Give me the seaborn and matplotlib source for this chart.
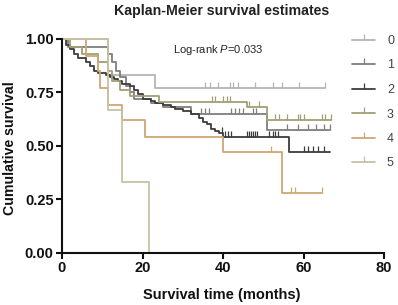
import numpy as np
import pandas as pd
import matplotlib
matplotlib.use("Agg")
import matplotlib.pyplot as plt
from matplotlib.lines import Line2D
import seaborn as sns

# ---------------- data ----------------
groups = ["0", "1", "2", "3", "4", "5"]
colors = ["#b4b4b4", "#7e7e7e", "#3c3c3c", "#a39e74", "#cfa673", "#c9c1a3"]

t0 = [0, 11.5, 23, 65.3]
s0 = [1.0, 0.83, 0.77, 0.77]
c0 = [35.5, 36.8, 38.8, 41.7, 42.5, 43.7, 48, 52.4, 54.7, 58.9, 65.3]

t1 = [0, 1.5, 11.5, 12.5, 13.5, 14.5, 16, 17, 18, 22, 25, 32, 51, 66.5]
s1 = [1.0, 0.96, 0.93, 0.89, 0.85, 0.82, 0.78, 0.75, 0.72, 0.70, 0.68, 0.65, 0.575, 0.575]
c1 = [34.5, 35.5, 36.5, 42, 43, 44, 45, 47.5, 48.3, 56, 58.6, 61, 63, 65, 66.5]

t2 = [0, 1, 2, 3, 4, 6, 7, 8, 9, 11, 12, 13, 14, 15, 17, 18, 19, 20, 22, 23, 25,
      27, 28, 30, 32, 34, 35, 36, 37, 38, 39, 40, 56.5, 66.5]
s2 = [1.0, 0.97, 0.95, 0.93, 0.91, 0.89, 0.87, 0.85, 0.84, 0.83, 0.82, 0.81, 0.80,
      0.79, 0.78, 0.76, 0.74, 0.72, 0.71, 0.70, 0.69, 0.68, 0.67, 0.66, 0.65, 0.63,
      0.61, 0.60, 0.58, 0.57, 0.56, 0.54, 0.47, 0.47]
c2 = [39.8, 40.5, 41.2, 42, 46, 46.5, 47, 47.5, 48, 48.5, 51.5, 52.3, 53, 53.7,
      60, 61, 62.3, 63.5, 65.2]

t3 = [0, 2, 5, 9, 11.5, 12.5, 14.5, 17, 24, 46, 51, 66.8]
s3 = [1.0, 0.96, 0.93, 0.89, 0.85, 0.80, 0.76, 0.73, 0.705, 0.68, 0.62, 0.62]
c3 = [37.3, 38, 40, 41, 41.7, 46.5, 49, 53, 54, 56, 58.6, 59.2, 60, 64.6, 65.3, 66.8]

t4 = [0, 6, 9, 9.5, 11.5, 15, 20.5, 40, 54.7, 64.6]
s4 = [1.0, 0.92, 0.85, 0.77, 0.69, 0.62, 0.54, 0.47, 0.28, 0.28]
c4 = [52, 57, 58, 64.6]

t5 = [0, 11.5, 15, 21.5]
s5 = [1.0, 0.667, 0.333, 0.0]
c5 = []

xticks = [0, 20, 40, 60, 80]
yticks = [0.0, 0.25, 0.50, 0.75, 1.00]

times = [t0, t1, t2, t3, t4, t5]
survs = [s0, s1, s2, s3, s4, s5]
cens = [c0, c1, c2, c3, c4, c5]

# ---------------- build tables ----------------
curve_rows = []
cens_rows = []
for g, tt, ss, cc in zip(groups, times, survs, cens):
    for a, b in zip(tt, ss):
        curve_rows.append({"time": a, "surv": b, "group": g})
    tt_arr = np.asarray(tt)
    for c in cc:
        idx = np.searchsorted(tt_arr, c, side="right") - 1
        cens_rows.append({"time": c, "surv": ss[idx], "group": g})
curves = pd.DataFrame(curve_rows)
censored = pd.DataFrame(cens_rows)
palette = dict(zip(groups, colors))

# ---------------- style ----------------
sns.set_theme(style="white")
plt.rcParams["font.family"] = ["Liberation Sans", "DejaVu Sans"]
plt.rcParams["mathtext.fontset"] = "custom"
plt.rcParams["mathtext.rm"] = "Liberation Sans"
plt.rcParams["mathtext.it"] = "Liberation Sans:italic"

fig = plt.figure(figsize=(3.98, 3.05), dpi=100)
ax = fig.add_axes([62 / 398, 1 - 253 / 305, 322 / 398, 214.5 / 305])

sns.lineplot(data=curves, x="time", y="surv", hue="group", palette=palette,
             drawstyle="steps-post", linewidth=1.3, errorbar=None,
             estimator=None, sort=True, legend=False, ax=ax, clip_on=False)
sns.scatterplot(data=censored, x="time", y="surv", hue="group", palette=palette,
                marker=2, s=18, linewidth=0.9, legend=False, ax=ax, clip_on=False)

ax.set_xlim(0, 80)
ax.set_ylim(0, 1.0)
ax.set_xticks(xticks)
ax.set_yticks(yticks)
ax.set_yticklabels([f"{v:.2f}" for v in yticks])
for s in ["top", "right"]:
    ax.spines[s].set_visible(False)
for s in ["left", "bottom"]:
    ax.spines[s].set_linewidth(1.5)
    ax.spines[s].set_color("#111111")
ax.tick_params(axis="both", which="major", direction="out", length=4.5, width=1.5,
               color="#111111", labelsize=10.5, pad=1.5, left=True, bottom=True)
for lab in ax.get_xticklabels() + ax.get_yticklabels():
    lab.set_fontweight("bold")
    lab.set_color("#111111")

ax.set_xlabel("Survival time (months)", fontsize=10.5, fontweight="bold", color="#111111")
ax.set_ylabel("Cumulative survival", fontsize=10.2, fontweight="bold", color="#111111")
ax.xaxis.set_label_coords(0.497, -0.165)
ax.yaxis.set_label_coords(-0.14, 0.49)

fig.text(222 / 398, 1 - 11 / 305, "Kaplan-Meier survival estimates", ha="center",
         va="center", fontsize=10.2, fontweight="bold", color="#222222")
ax.text((173 - 62) / 322, (253 - 50) / 214.5,
        r"Log-rank $P$=0.033", transform=ax.transAxes, ha="left", va="center",
        fontsize=8, color="#222222")

handles = [Line2D([], [], color=c, lw=1.3, marker=2, markersize=4, mew=0.9)
           for c in colors]
fig.legend(handles, groups, loc="upper left", bbox_to_anchor=(352 / 398, 1 - 35 / 305),
           frameon=False, fontsize=9, handlelength=1.85, handletextpad=0.95,
           labelspacing=1.0, borderpad=0, borderaxespad=0, numpoints=1,
           labelcolor="#444444")

fig.savefig("out.png", dpi=100)
